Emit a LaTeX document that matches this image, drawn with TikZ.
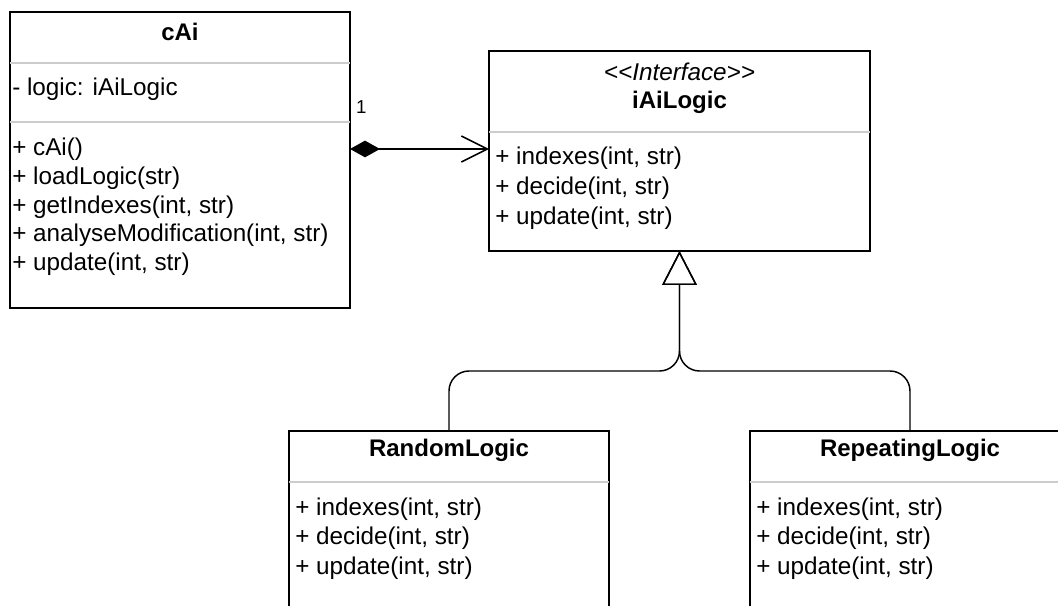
\documentclass[tikz,border=0pt]{standalone}
\usepackage{fontspec}
\setmainfont{Liberation Sans}
\usetikzlibrary{arrows.meta}
\tikzset{
  classbox/.style={draw, line width=1.3pt, anchor=north west, inner sep=0pt, outer sep=0pt},
  classname/.style={font=\fontsize{18}{21}\selectfont\bfseries, inner sep=0pt},
  stereo/.style={font=\fontsize{18.2}{21}\selectfont\itshape, inner sep=0pt},
  member/.style={font=\fontsize{18.2}{21}\selectfont, anchor=west, inner sep=0pt, text height=13pt, text depth=4pt},
  divider/.style={draw=gray!40, line width=1.5pt},
  compose/.style={line width=1.1pt, {Diamond[length=22.5pt, width=12.5pt]}-{Straight Barb[length=19.5pt, width=19.5pt, line width=1.1pt]}},
  inherit/.style={line width=1.1pt, rounded corners=15pt, -{Triangle[open, length=25.5pt, width=26pt, line width=1.1pt]}},
}
\begin{document}
\begin{tikzpicture}[x=0.75pt, y=-0.75pt]
  \useasboundingbox (0,0) rectangle (1058,606);
  \clip (0,0) rectangle (1058,606);
  \path
    (10,12) node[classbox, minimum width=255pt, minimum height=222pt] (cai) {}
    (489,51) node[classbox, minimum width=285.75pt, minimum height=150pt] (ilogic) {}
    (289,431) node[classbox, minimum width=240pt, minimum height=180pt] (random) {}
    (750,431) node[classbox, minimum width=240pt, minimum height=180pt] (repeating) {};
  \draw[divider] (10,63) -- (350,63);
  \draw[divider] (10,122) -- (350,122);
  \draw[divider] (489,132) -- (870,132);
  \draw[divider] (289,482) -- (609,482);
  \draw[divider] (750,482) -- (1058,482);
  \path
    (180,32) node[classname] (cai-name) {cAi}
    (12,90) node[member] (cai-a0) {- logic: iAiLogic}
    (12,150) node[member] (cai-m0) {+ cAi()}
    (12,179) node[member] (cai-m1) {+ loadLogic(str)}
    (12,208) node[member] (cai-m2) {+ getIndexes(int, str)}
    (12,236) node[member] (cai-m3) {+ analyseModification(int, str)}
    (12,265) node[member] (cai-m4) {+ update(int, str)};
  \path
    (679.5,72) node[stereo] (ilogic-stereo) {<{}<Interface>{}>}
    (679.5,102) node[classname] (ilogic-name) {iAiLogic}
    (495,159) node[member] (ilogic-m0) {+ indexes(int, str)}
    (495,189) node[member] (ilogic-m1) {+ decide(int, str)}
    (495,219) node[member] (ilogic-m2) {+ update(int, str)};
  \path
    (449,450) node[classname] (random-name) {RandomLogic}
    (295,509) node[member] (random-m0) {+ indexes(int, str)}
    (295,538) node[member] (random-m1) {+ decide(int, str)}
    (295,568) node[member] (random-m2) {+ update(int, str)};
  \path
    (910,450) node[classname] (repeating-name) {RepeatingLogic}
    (756,509) node[member] (repeating-m0) {+ indexes(int, str)}
    (756,538) node[member] (repeating-m1) {+ decide(int, str)}
    (756,568) node[member] (repeating-m2) {+ update(int, str)};
  \coordinate (link) at (0,149);
  \coordinate (hub) at (679.5,371);
  \draw[compose] (cai.east |- link) -- (ilogic.west |- link)
    node[pos=0, anchor=south west, font=\fontsize{14}{16}\selectfont, inner sep=0pt, xshift=4pt, yshift=26pt] (mult) {1};
  \draw[inherit] (random.north) |- (hub) -- (ilogic.south);
  \draw[inherit] (repeating.north) |- (hub) -- (ilogic.south);
\end{tikzpicture}
\end{document}
